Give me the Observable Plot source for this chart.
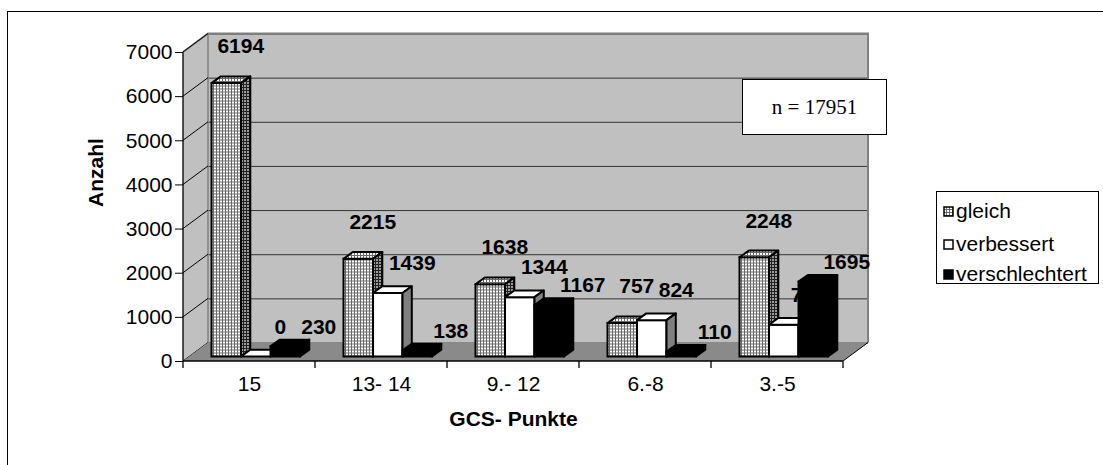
<!DOCTYPE html>
<html>
<head>
<meta charset="utf-8">
<script src="https://cdn.jsdelivr.net/npm/d3@7"></script>
<script src="https://cdn.jsdelivr.net/npm/@observablehq/plot@0.6"></script>
<style>
  html, body { margin: 0; padding: 0; background: #fff; overflow: hidden; }
  #wrap { position: relative; width: 1103px; height: 465px; overflow: hidden; font-family: Arial, "Liberation Sans", sans-serif; }
  #frame { position: absolute; left: 7px; top: 11px; width: 1300px; height: 700px; border: 1.5px solid #000; }
  #chart { position: absolute; left: 0; top: 0; }
  #legend { position: absolute; left: 936px; top: 191px; width: 163px; height: 93px; box-sizing: border-box; border: 1px solid #000; background: #fff; font-size: 21px; color: #000; }
  #legend .row { position: absolute; left: 6px; height: 26px; line-height: 26px; white-space: nowrap; display: flex; align-items: center; }
  #legend .row svg { margin-right: 2px; }
  #nbox { position: absolute; left: 742px; top: 79px; width: 145px; height: 56px; box-sizing: border-box; border: 1.5px solid #000; background: #fff; font-family: "Liberation Serif", "Times New Roman", serif; font-size: 21px; display: flex; align-items: center; justify-content: center; }
</style>
</head>
<body>
<svg width="0" height="0" style="position:absolute">
  <defs>
    <pattern id="pFront" width="3" height="3" patternUnits="userSpaceOnUse">
      <rect width="3" height="3" fill="#fff"/>
      <rect width="3" height="1" fill="#6a6a6a"/>
      <rect width="1" height="3" fill="#6a6a6a"/>
    </pattern>
    <pattern id="pSide" width="3" height="3" patternUnits="userSpaceOnUse">
      <rect width="3" height="3" fill="#9a9a9a"/>
      <rect width="3" height="1" fill="#222"/>
      <rect width="1" height="3" fill="#222"/>
    </pattern>
  </defs>
</svg>
<div id="wrap">
  <div id="frame"></div>
  <div id="chart"></div>
  <div id="legend"></div>
  <div id="nbox"></div>
</div>
<script>
// ---------------- data ----------------
const groups = ["15", "13- 14", "9.- 12", "6.-8", "3.-5"];
const seriesNames = ["gleich", "verbessert", "verschlechtert"];
const gleich = [6194, 2215, 1638, 757, 2248];
const verbessert = [0, 1439, 1344, 824, 720];
const verschlechtert = [230, 138, 1167, 110, 1695];
const yTicks = [0, 1000, 2000, 3000, 4000, 5000, 6000, 7000];
const xTitle = "GCS- Punkte";
const yTitle = "Anzahl";
const nText = "n = 17951";

// ---------------- layout / style ----------------
const W = 1103, H = 465;
const LEFT = 183, RIGHT = 843, TOP = 52, BOTTOM = 361;
const DX = 25, DY = -18.5;       // wall depth
const BX = 9.3, BY = -6.7;       // bar depth
const LIFT = -4.5;               // bars sit slightly behind the front edge
const BW = (RIGHT - LEFT) / groups.length;
const BAR_OFF = [28.5, 58, 87.5], BAR_W = 29.5;
const FS = 21;
const looks = [
  {front: "url(#pFront)", top: "url(#pFront)", side: "url(#pSide)", ldx: 14, ldy: -37},
  {front: "#fff", top: "#fff", side: "#808080", ldx: 24, ldy: -30},
  {front: "#000", top: "#000", side: "#000", ldx: 33, ldy: -20}
];

const seriesValues = [gleich, verbessert, verschlechtert];
const rows = seriesNames.map((s, i) => groups.map((g, j) => ({group: g, series: s, value: seriesValues[i][j]})));

const NS = "http://www.w3.org/2000/svg";
function el(tag, attrs, parent) {
  const e = document.createElementNS(NS, tag);
  for (const k in attrs) e.setAttribute(k, attrs[k]);
  if (parent) parent.appendChild(e);
  return e;
}
const poly = pts => "M" + pts.map(p => p.join(",")).join("L") + "Z";

// walls
function wallsMark(index, scales, values, dims) {
  const x0 = dims.marginLeft, x1 = dims.width - dims.marginRight;
  const yb = dims.height - dims.marginBottom, yt = dims.marginTop;
  const g = el("g", {});
  el("path", {d: poly([[x0, yb], [x0, yt], [x0 + DX, yt + DY], [x0 + DX, yb + DY]]), fill: "#c0c0c0"}, g);
  el("rect", {x: x0 + DX, y: yt + DY, width: x1 - x0, height: yb - yt, fill: "#c0c0c0"}, g);
  return g;
}
// floor, edges, axis lines
function floorMark(index, scales, values, dims) {
  const x0 = dims.marginLeft, x1 = dims.width - dims.marginRight;
  const yb = dims.height - dims.marginBottom, yt = dims.marginTop;
  const g = el("g", {});
  el("path", {d: `M${x0},${yt}L${x0 + DX},${yt + DY}L${x1 + DX},${yt + DY}L${x1 + DX},${yb + DY}`, fill: "none", stroke: "#808080", "stroke-width": 2}, g);
  el("path", {d: `M${x0 + DX},${yt + DY}L${x0 + DX},${yb + DY}`, fill: "none", stroke: "#808080", "stroke-width": 1.5}, g);
  for (const t of yTicks) {
    const y = scales.y(t);
    el("path", {d: `M${x0},${y}L${x0 + DX},${y + DY}`, stroke: "#000", "stroke-width": 1, fill: "none"}, g);
  }
  el("path", {d: poly([[x0, yb], [x0 + DX, yb + DY], [x1 + DX, yb + DY], [x1, yb]]), fill: "#8a8a8a"}, g);
  el("path", {d: `M${x1},${yb}L${x1 + DX},${yb + DY}`, stroke: "#000", "stroke-width": 1, fill: "none"}, g);
  el("path", {d: `M${x0},${yt}L${x0},${yb}L${x1},${yb}`, stroke: "#000", "stroke-width": 1.3, fill: "none"}, g);
  const bounds = groups.map(d => scales.x(d));
  bounds.push(scales.x(groups[groups.length - 1]) + (scales.x(groups[1]) - scales.x(groups[0])));
  for (const bx of bounds) el("path", {d: `M${bx},${yb}L${bx},${yb + 7}`, stroke: "#000", "stroke-width": 1.3}, g);
  return g;
}
function facesMark(i) {
  return (index, scales) => {
    const g = el("g", {});
    const L = looks[i];
    for (const d of rows[i]) {
      const x0 = scales.x(d.group) + BAR_OFF[i], x1 = x0 + BAR_W;
      const yT = scales.y(d.value) + LIFT, yB = scales.y(0) + LIFT;
      el("path", {d: poly([[x0, yT], [x0 + BX, yT + BY], [x1 + BX, yT + BY], [x1, yT]]), fill: L.top, stroke: "#000", "stroke-width": 2, "stroke-linejoin": "round"}, g);
      el("path", {d: poly([[x1, yT], [x1 + BX, yT + BY], [x1 + BX, yB + BY], [x1, yB]]), fill: L.side, stroke: "#000", "stroke-width": 2, "stroke-linejoin": "round"}, g);
    }
    return g;
  };
}
function barMarks(i) {
  const L = looks[i];
  return [
    Plot.barY(rows[i], {x: "group", y: "value", fill: L.front, stroke: "#000", strokeWidth: 2,
      insetLeft: BAR_OFF[i], insetRight: BW - BAR_OFF[i] - BAR_W, dy: LIFT}),
    facesMark(i)
  ];
}
function labelMark(i) {
  const L = looks[i];
  return Plot.text(rows[i], {x: "group", y: "value", text: d => String(d.value),
    dx: BAR_OFF[i] + BAR_W / 2 - BW / 2 + L.ldx, dy: LIFT + L.ldy,
    fontSize: FS, fontWeight: "bold", fill: "#000"});
}

const chart = Plot.plot({
  width: W, height: H,
  marginLeft: LEFT, marginRight: W - RIGHT, marginTop: TOP, marginBottom: H - BOTTOM,
  style: {fontFamily: "Arial, 'Liberation Sans', sans-serif", background: "transparent", overflow: "visible", color: "#000"},
  x: {type: "band", domain: groups, padding: 0},
  y: {domain: [0, 7000]},
  marks: [
    wallsMark,
    Plot.gridY(yTicks, {dx: DX, dy: DY, stroke: "#333", strokeOpacity: 1, strokeWidth: 1}),
    floorMark,
    Plot.axisY({ticks: yTicks, tickSize: 8, tickPadding: 3, fontSize: FS, label: null, tickFormat: d => String(d)}),
    Plot.axisX({tickSize: 0, tickPadding: 15, fontSize: FS, label: null}),
    ...barMarks(0),
    ...barMarks(1),
    labelMark(0),
    labelMark(1),
    ...barMarks(2),
    labelMark(2),
    Plot.text([yTitle], {frameAnchor: "left", text: d => d, rotate: -90, dx: -87, fontSize: FS, fontWeight: "bold"}),
    Plot.text([xTitle], {frameAnchor: "bottom", text: d => d, dy: 64, fontSize: FS, fontWeight: "bold"})
  ]
});
document.getElementById("chart").appendChild(chart);

// legend
const legend = document.getElementById("legend");
const rowTops = [6, 39, 69];
seriesNames.forEach((s, i) => {
  const row = document.createElement("div");
  row.className = "row";
  row.style.top = rowTops[i] + "px";
  const sw = el("svg", {width: 11, height: 11});
  el("rect", {x: 1, y: 1, width: 9, height: 9, fill: looks[i].front, stroke: "#000", "stroke-width": 1.5}, sw);
  row.appendChild(sw);
  const t = document.createElement("span");
  t.textContent = s;
  row.appendChild(t);
  legend.appendChild(row);
});
document.getElementById("nbox").textContent = nText;
</script>
</body>
</html>
